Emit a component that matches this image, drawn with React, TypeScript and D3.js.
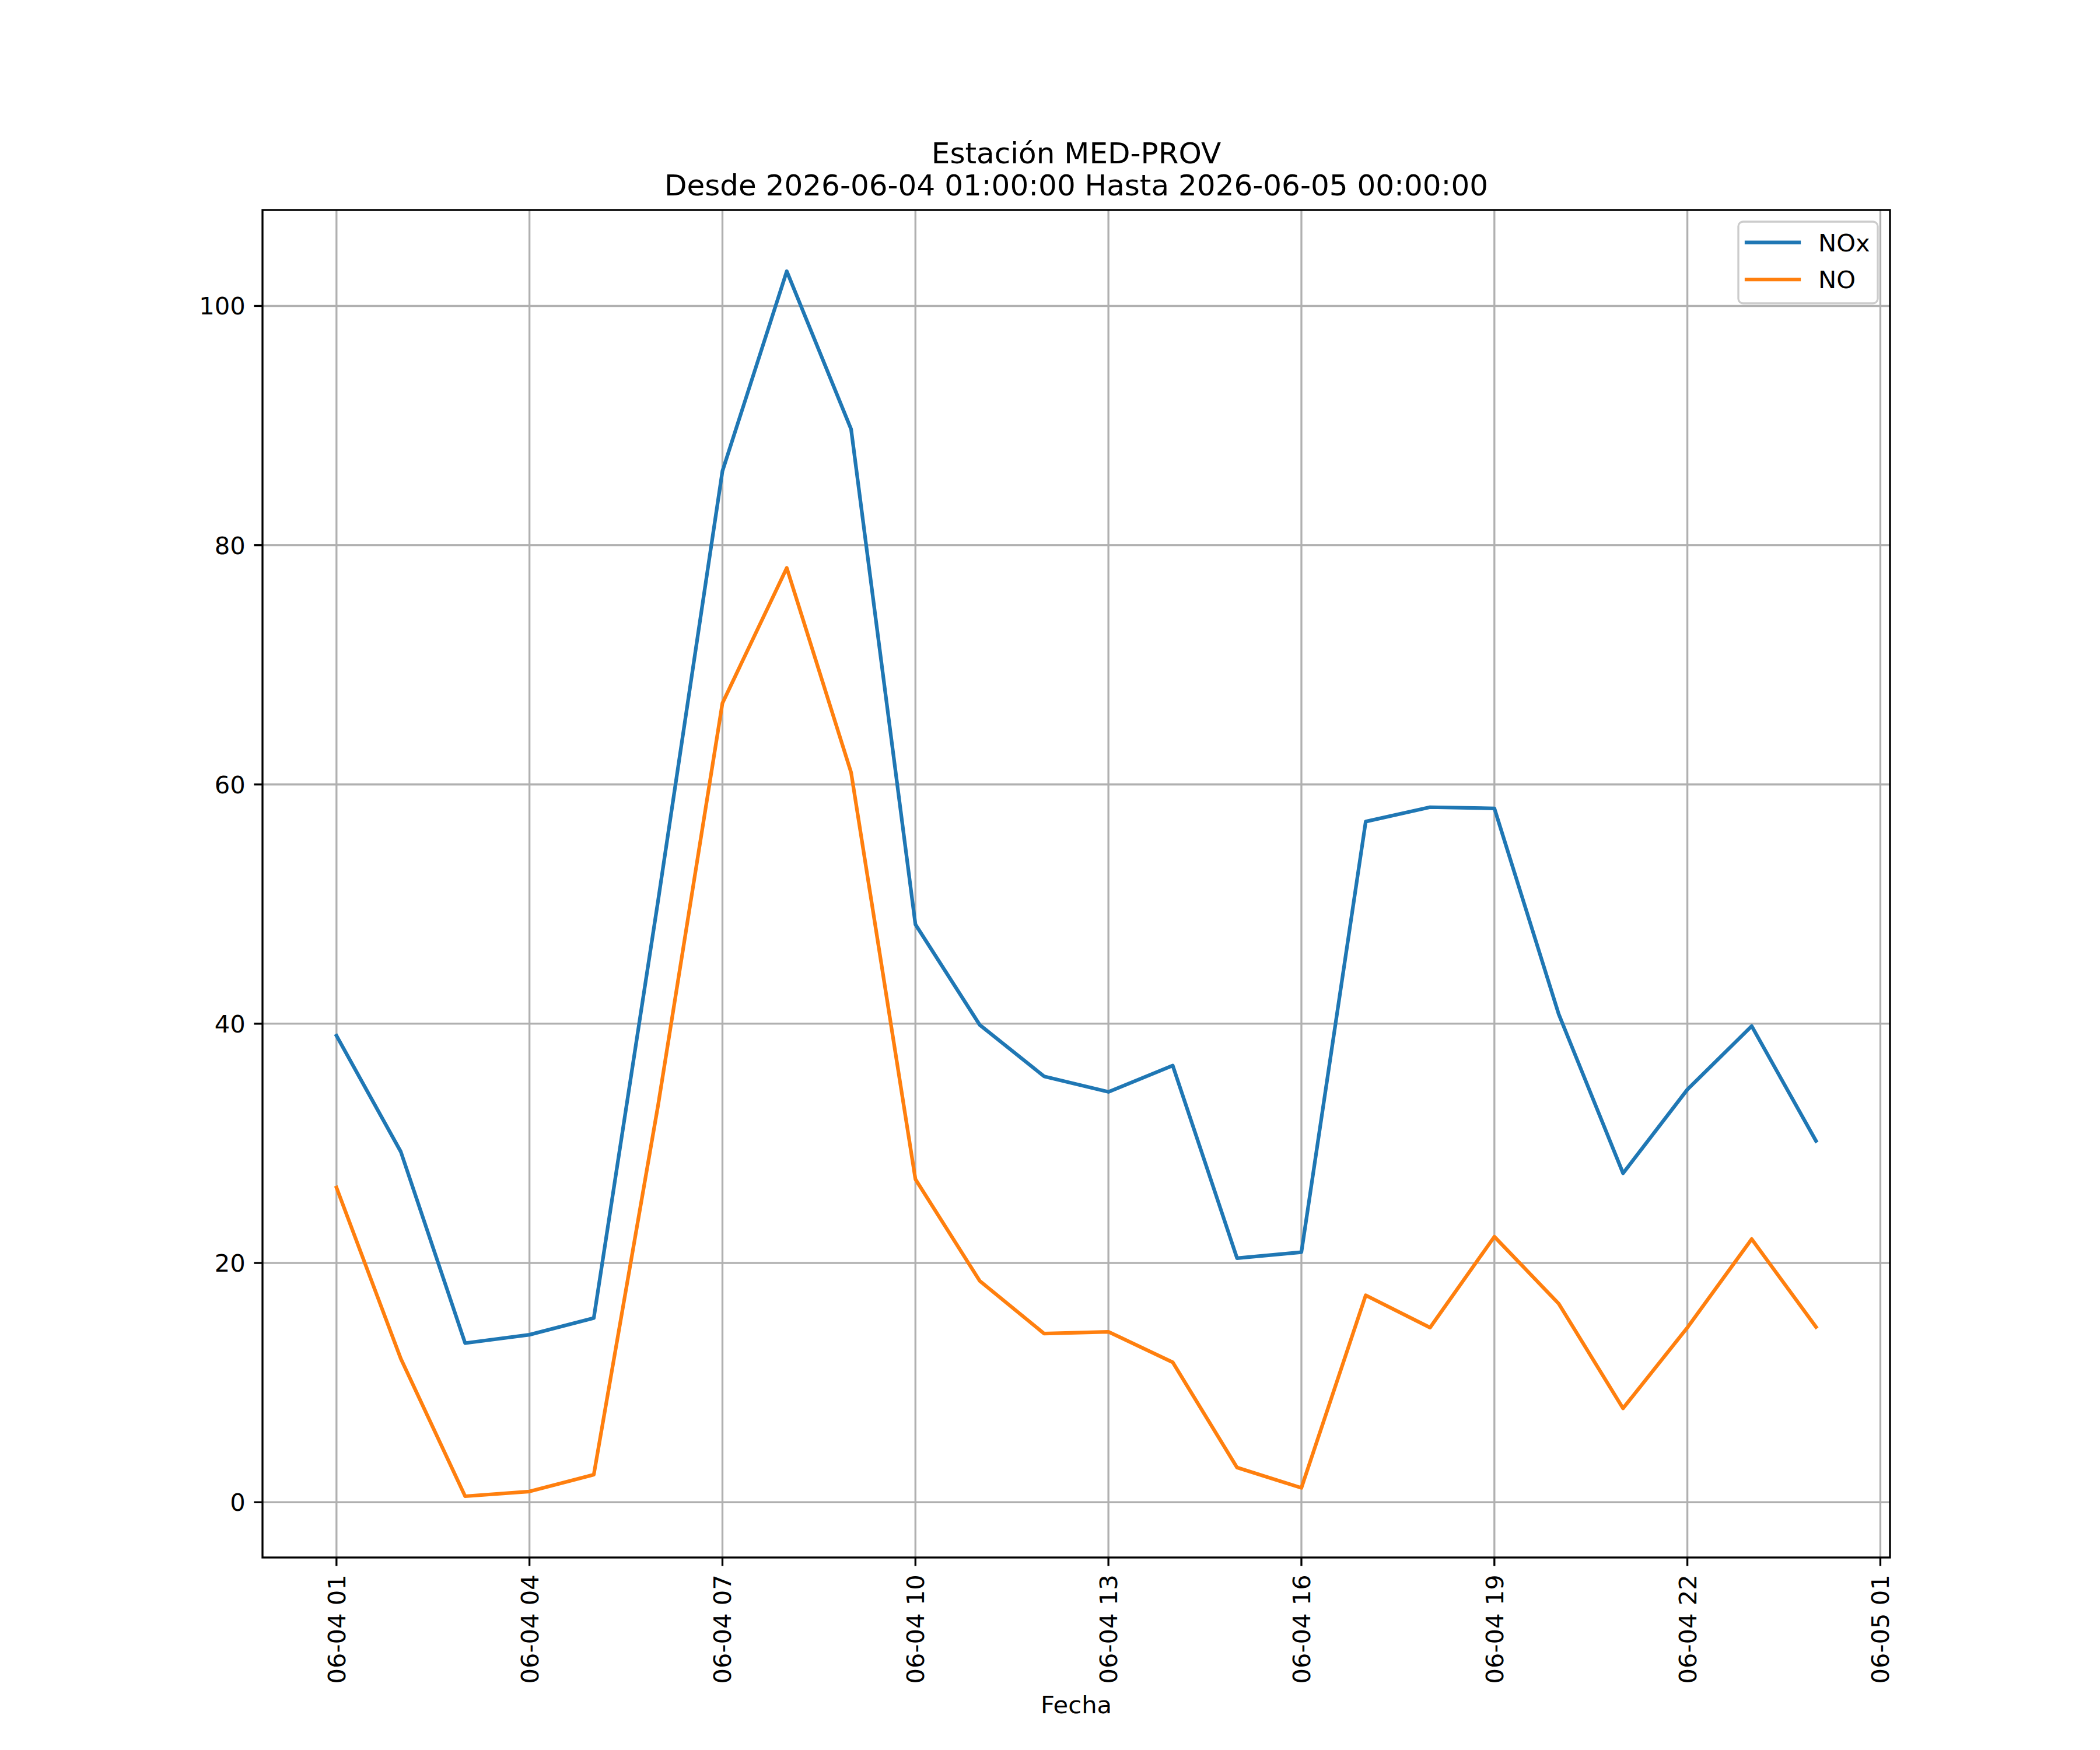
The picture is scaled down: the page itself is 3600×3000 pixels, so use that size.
import React from 'react';
import * as d3 from 'd3';

// Hourly readings, station MED-PROV
const times = [
  '2026-06-04T01:00:00Z', '2026-06-04T02:00:00Z', '2026-06-04T03:00:00Z', '2026-06-04T04:00:00Z',
  '2026-06-04T05:00:00Z', '2026-06-04T06:00:00Z', '2026-06-04T07:00:00Z', '2026-06-04T08:00:00Z',
  '2026-06-04T09:00:00Z', '2026-06-04T10:00:00Z', '2026-06-04T11:00:00Z', '2026-06-04T12:00:00Z',
  '2026-06-04T13:00:00Z', '2026-06-04T14:00:00Z', '2026-06-04T15:00:00Z', '2026-06-04T16:00:00Z',
  '2026-06-04T17:00:00Z', '2026-06-04T18:00:00Z', '2026-06-04T19:00:00Z', '2026-06-04T20:00:00Z',
  '2026-06-04T21:00:00Z', '2026-06-04T22:00:00Z', '2026-06-04T23:00:00Z', '2026-06-05T00:00:00Z',
];

const noxValues = [
  39.0, 29.3, 13.3, 14.0, 15.4, 50.3, 86.2, 102.9, 89.7, 48.3, 39.9, 35.6,
  34.3, 36.5, 20.4, 20.9, 56.9, 58.1, 58.0, 40.8, 27.5, 34.5, 39.8, 30.2,
];

const noValues = [
  26.3, 12.0, 0.5, 0.9, 2.3, 33.2, 66.8, 78.1, 61.0, 27.0, 18.5, 14.1,
  14.25, 11.7, 2.9, 1.2, 17.3, 14.6, 22.2, 16.6, 7.85, 14.6, 22.0, 14.65,
];

const tickTimes = [
  '2026-06-04T01:00:00Z', '2026-06-04T04:00:00Z', '2026-06-04T07:00:00Z', '2026-06-04T10:00:00Z',
  '2026-06-04T13:00:00Z', '2026-06-04T16:00:00Z', '2026-06-04T19:00:00Z', '2026-06-04T22:00:00Z',
  '2026-06-05T01:00:00Z',
];
const yTicks = [0, 20, 40, 60, 80, 100];

const seriesNames = ['NOx', 'NO'];
const seriesColors = ['#1f77b4', '#ff7f0e'];
const titleLines = ['Estación MED-PROV', 'Desde 2026-06-04 01:00:00 Hasta 2026-06-05 00:00:00'];
const xLabel = 'Fecha';

const W = 3600;
const H = 3000;
const margin = { left: 450, right: 360, top: 360, bottom: 330 };
const FONT = '"DejaVu Sans", sans-serif';
const LW = 6.25;     // 1.5pt at 300dpi
const THIN = 3.33;   // 0.8pt
const TICK = 14.6;   // 3.5pt

export default function App() {
  const x0 = margin.left;
  const x1 = W - margin.right;
  const y0 = margin.top;
  const y1 = H - margin.bottom;

  const dates = times.map(t => new Date(t));
  const [tMin, tMax] = d3.extent(dates) as [Date, Date];
  const span = tMax.getTime() - tMin.getTime();
  const xScale = d3.scaleUtc()
    .domain([new Date(tMin.getTime() - span * 0.05), new Date(tMax.getTime() + span * 0.05)])
    .range([x0, x1]);

  const all = [...noxValues, ...noValues];
  const vMin = d3.min(all) as number;
  const vMax = d3.max(all) as number;
  const vr = vMax - vMin;
  const yScale = d3.scaleLinear()
    .domain([vMin - vr * 0.05, vMax + vr * 0.05])
    .range([y1, y0]);

  const fmt = d3.utcFormat('%m-%d %H');
  const series = [noxValues, noValues];
  const line = d3.line<number>()
    .x((_, i) => xScale(dates[i]))
    .y(d => yScale(d));

  const cx = (x0 + x1) / 2;

  // legend geometry
  const lg = { x: 2980, y: 380, w: 239, h: 140 };

  return (
    <svg width={W} height={H} style={{ position: 'absolute', left: 0, top: 0, background: '#fff' }}
      fontFamily={FONT}>
      <rect x={0} y={0} width={W} height={H} fill="#fff" />

      {/* grid */}
      <g stroke="#b0b0b0" strokeWidth={THIN}>
        {tickTimes.map(t => (
          <line key={t} x1={xScale(new Date(t))} x2={xScale(new Date(t))} y1={y0} y2={y1} />
        ))}
        {yTicks.map(v => (
          <line key={v} x1={x0} x2={x1} y1={yScale(v)} y2={yScale(v)} />
        ))}
      </g>

      {/* series */}
      {series.map((s, k) => (
        <path key={seriesNames[k]} d={line(s) || ''} fill="none" stroke={seriesColors[k]}
          strokeWidth={LW} strokeLinejoin="round" strokeLinecap="square" />
      ))}

      {/* spines */}
      <rect x={x0} y={y0} width={x1 - x0} height={y1 - y0} fill="none" stroke="#000"
        strokeWidth={THIN} />

      {/* x ticks */}
      {tickTimes.map(t => {
        const x = xScale(new Date(t));
        const ty = y1 + TICK + 14.6;
        return (
          <g key={'xt' + t}>
            <line x1={x} x2={x} y1={y1} y2={y1 + TICK} stroke="#000" strokeWidth={THIN} />
            <text x={x} y={ty} transform={`rotate(-90, ${x}, ${ty})`} textAnchor="end"
              dy="0.36em" fontSize={41.67} fill="#000">{fmt(new Date(t))}</text>
          </g>
        );
      })}

      {/* y ticks */}
      {yTicks.map(v => {
        const y = yScale(v);
        return (
          <g key={'yt' + v}>
            <line x1={x0 - TICK} x2={x0} y1={y} y2={y} stroke="#000" strokeWidth={THIN} />
            <text x={x0 - TICK - 14.6} y={y} dy="0.36em" textAnchor="end" fontSize={41.67}
              fill="#000">{v}</text>
          </g>
        );
      })}

      {/* x label */}
      <text x={cx} y={2937} textAnchor="middle" fontSize={41.67} fill="#000">{xLabel}</text>

      {/* title */}
      {titleLines.map((t, i) => (
        <text key={t} x={cx} y={280 + i * 55} textAnchor="middle" fontSize={50} fill="#000">{t}</text>
      ))}

      {/* legend */}
      <g>
        <rect x={lg.x} y={lg.y} width={lg.w} height={lg.h} rx={8} ry={8}
          fill="#fff" fillOpacity={0.8} stroke="#cccccc" strokeWidth={THIN} />
        {seriesNames.map((n, k) => {
          const ly = 415.7 + k * 63.3;
          return (
            <g key={'lg' + n}>
              <line x1={2994} x2={3084} y1={ly} y2={ly} stroke={seriesColors[k]} strokeWidth={LW}
                strokeLinecap="square" />
              <text x={3117} y={ly} dy="0.36em" fontSize={41.67} fill="#000">{n}</text>
            </g>
          );
        })}
      </g>
    </svg>
  );
}
